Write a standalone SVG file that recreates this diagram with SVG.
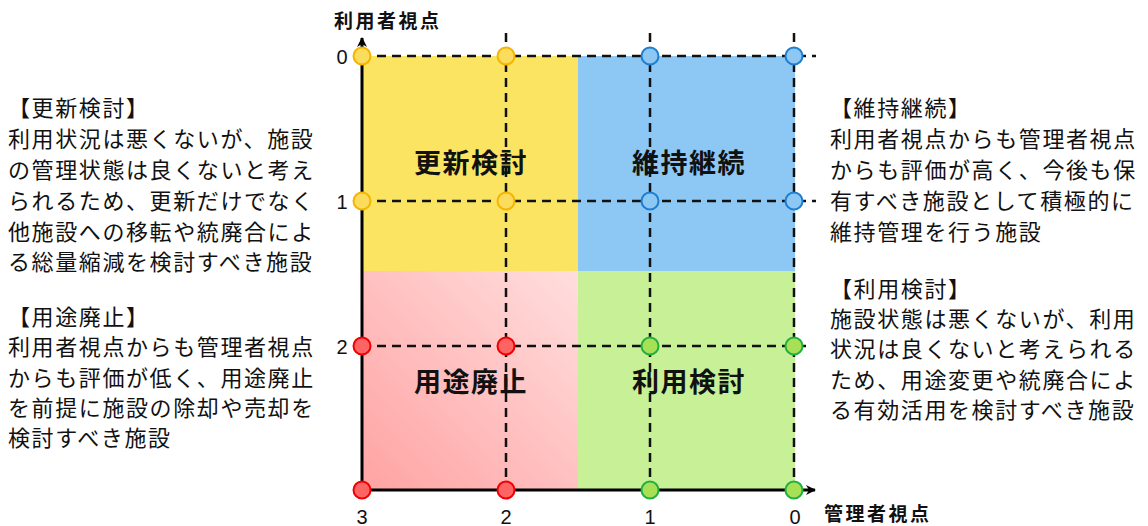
<svg xmlns="http://www.w3.org/2000/svg" width="1148" height="526" viewBox="0 0 1148 526">
  <defs>
    <style>
      .side{font-family:"Noto Sans CJK JP","Noto Sans",sans-serif;font-size:22px;letter-spacing:1.6px;fill:#111}
      .quad{font-family:"Noto Sans CJK JP","Noto Sans",sans-serif;font-size:27px;font-weight:bold;letter-spacing:1.5px;fill:#111;text-anchor:middle}
      .axis{font-family:"Noto Sans CJK JP","Noto Sans",sans-serif;font-size:19px;font-weight:bold;letter-spacing:2.5px;fill:#111}
      .num{font-family:"Liberation Sans","DejaVu Sans",sans-serif;font-size:20px;fill:#111;text-anchor:middle}
      .dash{stroke:#111;stroke-width:2.5;stroke-dasharray:9 6;fill:none}
      .ax{stroke:#000;stroke-width:3;fill:none}
      .cy{fill:#FCDC5C;stroke:#F5B400;stroke-width:2}
      .cb{fill:#8DC8F4;stroke:#1E7ED0;stroke-width:2}
      .cr{fill:#FF6464;stroke:#F00000;stroke-width:2}
      .cg{fill:#A8E055;stroke:#20B040;stroke-width:2}
    </style>
    <linearGradient id="pink" x1="0" y1="1" x2="1" y2="0">
      <stop offset="0" stop-color="#FFA3A3"/>
      <stop offset="1" stop-color="#FFDEDE"/>
    </linearGradient>
    <marker id="arr" viewBox="0 0 10 10" refX="9" refY="5" markerWidth="10" markerHeight="10" markerUnits="userSpaceOnUse" orient="auto">
      <path d="M0,0 L10,5 L0,10 L3,5 Z" fill="#000"/>
    </marker>
  </defs>

  <g id="quadrants">
    <rect id="q-koshin" x="362" y="56" width="216" height="215" fill="#FBE462"/>
    <rect id="q-iji" x="578" y="56" width="217" height="215" fill="#8DC8F4"/>
    <rect id="q-haishi" x="362" y="271" width="216" height="219" fill="url(#pink)"/>
    <rect id="q-riyo" x="578" y="271" width="217" height="219" fill="#C8F096"/>
  </g>

  <g id="connectors">
    <line class="dash" x1="362" y1="56" x2="816" y2="56"/>
    <line class="dash" x1="362" y1="201" x2="816" y2="201"/>
    <line class="dash" x1="362" y1="346" x2="810" y2="346"/>
    <line class="dash" x1="506" y1="33" x2="506" y2="490"/>
    <line class="dash" x1="650" y1="33" x2="650" y2="490"/>
    <line class="dash" x1="794" y1="33" x2="794" y2="490"/>
    <line id="y-axis" class="ax" x1="362" y1="491" x2="362" y2="38" marker-end="url(#arr)"/>
    <line id="x-axis" class="ax" x1="361" y1="490" x2="815" y2="490" marker-end="url(#arr)"/>
  </g>

  <g id="points">
    <circle class="cy" cx="362" cy="56" r="8.5"/>
    <circle class="cy" cx="506" cy="56" r="8.5"/>
    <circle class="cy" cx="362" cy="201" r="8.5"/>
    <circle class="cy" cx="506" cy="201" r="8.5"/>
    <circle class="cb" cx="650" cy="56" r="8.5"/>
    <circle class="cb" cx="794" cy="56" r="8.5"/>
    <circle class="cb" cx="650" cy="201" r="8.5"/>
    <circle class="cb" cx="794" cy="201" r="8.5"/>
    <circle class="cr" cx="362" cy="346" r="8.5"/>
    <circle class="cr" cx="506" cy="346" r="8.5"/>
    <circle class="cr" cx="362" cy="490" r="8.5"/>
    <circle class="cr" cx="506" cy="490" r="8.5"/>
    <circle class="cg" cx="650" cy="346" r="8.5"/>
    <circle class="cg" cx="794" cy="346" r="8.5"/>
    <circle class="cg" cx="650" cy="490" r="8.5"/>
    <circle class="cg" cx="794" cy="490" r="8.5"/>
  </g>

  <g id="quad-labels">
    <text class="quad" x="471" y="173">更新検討</text>
    <text class="quad" x="689" y="173">維持継続</text>
    <text class="quad" x="471" y="392">用途廃止</text>
    <text class="quad" x="689" y="392">利用検討</text>
  </g>

  <g id="axis-labels">
    <text class="axis" x="334" y="28">利用者視点</text>
    <text class="axis" x="824" y="521">管理者視点</text>
    <text class="num" x="342" y="64">0</text>
    <text class="num" x="342" y="209">1</text>
    <text class="num" x="342" y="354">2</text>
    <text class="num" x="362" y="524">3</text>
    <text class="num" x="506" y="524">2</text>
    <text class="num" x="650" y="524">1</text>
    <text class="num" x="795" y="524">0</text>
  </g>

  <g id="note-koshin">
    <text class="side" x="8" y="116">【更新検討】</text>
    <text class="side" x="8" y="147">利用状況は悪くないが、施設</text>
    <text class="side" x="8" y="178">の管理状態は良くないと考え</text>
    <text class="side" x="8" y="209">られるため、更新だけでなく</text>
    <text class="side" x="8" y="240">他施設への移転や統廃合によ</text>
    <text class="side" x="8" y="270">る総量縮減を検討すべき施設</text>
  </g>

  <g id="note-haishi">
    <text class="side" x="8" y="325">【用途廃止】</text>
    <text class="side" x="8" y="355">利用者視点からも管理者視点</text>
    <text class="side" x="8" y="386">からも評価が低く、用途廃止</text>
    <text class="side" x="8" y="416">を前提に施設の除却や売却を</text>
    <text class="side" x="8" y="446">検討すべき施設</text>
  </g>

  <g id="note-iji">
    <text class="side" x="830" y="116">【維持継続】</text>
    <text class="side" x="830" y="147">利用者視点からも管理者視点</text>
    <text class="side" x="830" y="178">からも評価が高く、今後も保</text>
    <text class="side" x="830" y="209">有すべき施設として積極的に</text>
    <text class="side" x="830" y="240">維持管理を行う施設</text>
  </g>

  <g id="note-riyo">
    <text class="side" x="830" y="297">【利用検討】</text>
    <text class="side" x="830" y="327">施設状態は悪くないが、利用</text>
    <text class="side" x="830" y="357">状況は良くないと考えられる</text>
    <text class="side" x="830" y="388">ため、用途変更や統廃合によ</text>
    <text class="side" x="830" y="418">る有効活用を検討すべき施設</text>
  </g>
</svg>
